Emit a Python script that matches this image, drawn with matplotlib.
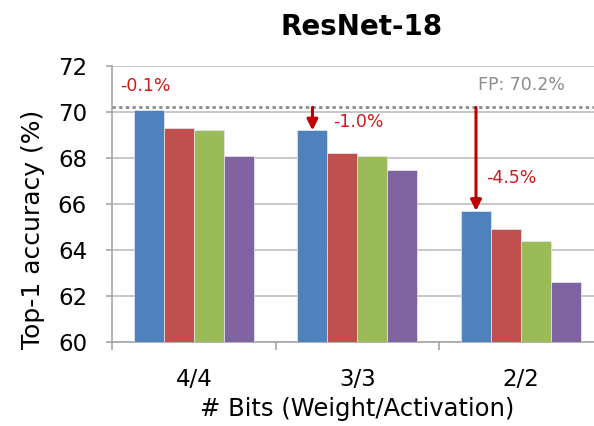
import numpy as np
import matplotlib.pyplot as plt

plt.rcParams['font.family'] = ['DejaVu Sans']

categories = ['4/4', '3/3', '2/2']
series_a = [70.1, 69.2, 65.7]
series_b = [69.3, 68.2, 64.9]
series_c = [69.2, 68.1, 64.4]
series_d = [68.1, 67.5, 62.6]
fp_acc = 70.2
drops = ['-0.1%', '-1.0%', '-4.5%']

colors = ['#4F81BD', '#C0504D', '#9BBB59', '#8064A2']
red = '#D01A1A'
arrow_red = '#C00000'

fig = plt.figure(figsize=(5.94, 4.26), dpi=100)
ax = fig.add_axes([0.1886, 0.197, 0.826, 0.648])

x = np.arange(len(categories))
w = 0.183
for i, s in enumerate([series_a, series_b, series_c, series_d]):
    ax.bar(x + (i - 1.5) * w, s, w, color=colors[i], edgecolor='#E8E8F0',
           linewidth=0.5, zorder=3)

ax.set_ylim(60, 72)
ax.set_xlim(-0.5, 2.5)
ax.set_yticks(np.arange(60, 73, 2))
ax.yaxis.grid(True, color='#BEBEBE', linewidth=1.2, zorder=0)
ax.set_axisbelow(True)

# FP reference line
ax.axhline(fp_acc, color='#8C8C8C', linestyle=(0, (1.2, 1.2)), linewidth=2, zorder=4)
ax.text(1.74, 71.17, 'FP: 70.2%', color='#8C8C8C', fontsize=12.5, va='center')

# drop annotations
blue_x = x - 1.5 * w
for k in [1, 2]:
    ax.annotate('', xy=(blue_x[k], series_a[k]), xytext=(blue_x[k], fp_acc),
                arrowprops=dict(arrowstyle='-|>', color=arrow_red, lw=2.2,
                                mutation_scale=16, shrinkA=0, shrinkB=0), zorder=5)
ax.text(-0.45, 71.13, drops[0], color=red, fontsize=12.5, va='center')
ax.text(0.85, 69.58, drops[1], color=red, fontsize=12.5, va='center')
ax.text(1.79, 67.13, drops[2], color=red, fontsize=12.5, va='center')

ax.set_xticks(x)
ax.set_xticklabels(categories)
ax.set_xticks([-0.5, 0.5, 1.5, 2.5], minor=True)
ax.tick_params(axis='x', which='major', length=0, pad=19, labelsize=16.5)
ax.tick_params(axis='x', which='minor', length=6, color='#A6A6A6', width=1.2)
ax.tick_params(axis='y', length=4, color='#A6A6A6', width=1.2, labelsize=16.5, pad=14)

for sp in ['top', 'right']:
    ax.spines[sp].set_visible(False)
for sp in ['left', 'bottom']:
    ax.spines[sp].set_color('#A6A6A6')
    ax.spines[sp].set_linewidth(1.2)

ax.set_ylabel('Top-1 accuracy (%)', fontsize=18)
ax.yaxis.set_label_coords(-0.136, 0.41)
ax.set_xlabel('# Bits (Weight/Activation)', fontsize=17.5, labelpad=4)
fig.text(0.609, 0.937, 'ResNet-18', fontsize=20, fontweight='bold', ha='center', va='center')

fig.savefig('out.png', dpi=100)
